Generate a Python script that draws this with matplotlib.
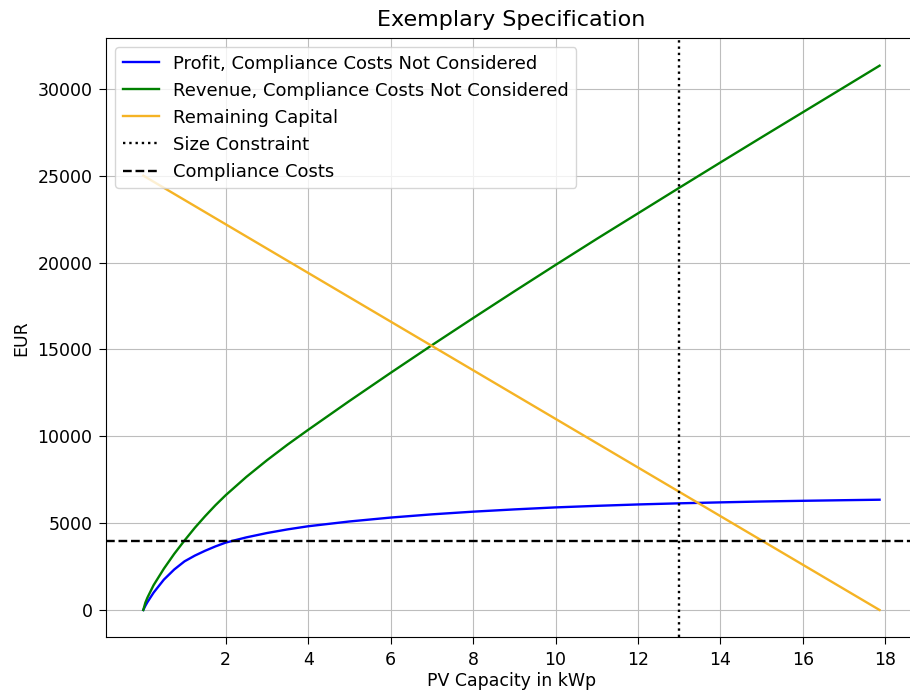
import numpy as np
import matplotlib
matplotlib.use("Agg")
import matplotlib.pyplot as plt

# Capacité PV (kWp) et courbes en EUR
cap = [0, 0.05, 0.1, 0.25, 0.5, 0.75, 1, 1.25, 1.5, 1.75, 2, 2.5, 3, 3.5, 4,
       5, 6, 7, 8, 9, 10, 11, 12, 13, 14, 15, 16, 17, 17.86]
profit = [0, 240, 450, 1000, 1750, 2330, 2800, 3130, 3410, 3660, 3880, 4180,
          4430, 4640, 4820, 5095, 5320, 5505, 5660, 5790, 5905, 5995, 6075,
          6140, 6195, 6245, 6285, 6320, 6348]
revenue = [0, 420, 710, 1430, 2380, 3230, 4000, 4730, 5400, 6030, 6610, 7660,
           8620, 9520, 10370, 12030, 13650, 15240, 16800, 18340, 19860, 21360,
           22830, 24300, 25760, 27210, 28650, 30090, 31330]

cap_capital = [0, 17.86]
capital = [25000, 0]

size_limit = 13  # kWp
compliance = 4000  # EUR

fig = plt.figure(figsize=(9.1, 6.93), dpi=100)
ax = fig.add_axes([0.117, 0.0805, 0.890, 0.864])

ax.plot(cap, profit, color='blue', linewidth=1.7,
        label="Profit, Compliance Costs Not Considered")
ax.plot(cap, revenue, color='green', linewidth=1.7,
        label="Revenue, Compliance Costs Not Considered")
ax.plot(cap_capital, capital, color='#f5b324', linewidth=1.7,
        label="Remaining Capital")
ax.axvline(size_limit, color='black', linestyle=':', linewidth=1.7,
           label="Size Constraint")
ax.axhline(compliance, color='black', linestyle='--', linewidth=1.7,
           label="Compliance Costs")

ax.set_xticks(np.arange(2, 19, 2))
ax.tick_params(labelsize=12.5, length=5, pad=5)
ax.grid(True, color='#bdbdbd')

ax.set_title("Exemplary Specification", fontsize=16, pad=9)
ax.set_xlabel("PV Capacity in kWp", fontsize=12.5, labelpad=2)
ax.set_ylabel("EUR", fontsize=12.5, labelpad=5)
ax.legend(loc='upper left', fontsize=13)

fig.savefig("out.png")
